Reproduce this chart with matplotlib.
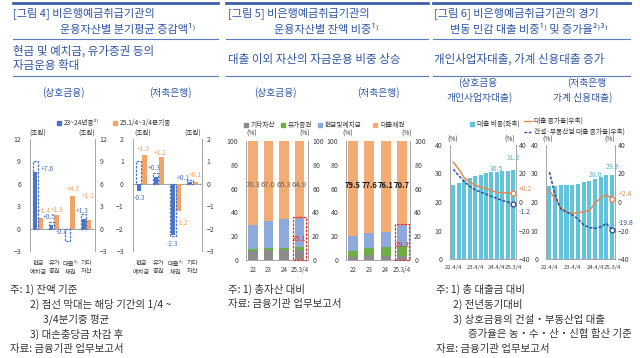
import numpy as np
import matplotlib.pyplot as plt
from matplotlib.patches import Rectangle
from matplotlib.lines import Line2D

plt.rcParams['font.family'] = ['Noto Sans CJK KR', 'DejaVu Sans']

W, H = 640, 358

# ---- 그림 4 : 운용자산별 분기평균 증감액 (조원)
assets4 = ['현금\n예치금', '유가\n증권', '대출³⁾\n채권', '기타\n자산']
coop_2324 = [7.6, 0.5, -0.1, 1.3]
coop_2324_q = [9.0, 0.9, -1.6, 2.0]     # 점선: 1/4~3/4분기중 평균
coop_25 = [1.4, 1.8, 4.3, 1.2]
sav_2324 = [-0.3, 0.3, -2.3, 0.1]
sav_2324_q = [1.0, 0.5, -2.35, 0.15]
sav_25 = [1.3, 1.2, -1.2, 0.1]

# ---- 그림 5 : 운용자산별 잔액 비중 (%)
years5 = ['22', '23', '24', '25.3/4']
coop_other = np.array([7.6, 8.5, 8.5, 8.5])
coop_sec = np.array([2.0, 1.9, 1.6, 2.2])
coop_cash = np.array([20.1, 22.6, 24.6, 24.4])
coop_loan = np.array([70.3, 67.0, 65.3, 64.9])
sav_other = np.array([2.8, 3.9, 3.4, 3.5])
sav_sec = np.array([4.5, 6.3, 7.3, 8.5])
sav_cash = np.array([13.2, 12.2, 13.2, 17.3])
sav_loan = np.array([79.5, 77.6, 76.1, 70.7])

# ---- 그림 6 : 경기변동 민감 대출 비중 및 증가율 (%)
quarters6 = ['22.4/4', '23.1/4', '23.2/4', '23.3/4', '23.4/4', '24.1/4',
             '24.2/4', '24.3/4', '24.4/4', '25.1/4', '25.2/4', '25.3/4']
coop_share = [26.0, 26.8, 27.6, 28.4, 29.0, 29.6, 30.1, 30.4, 30.5, 30.8, 31.0, 31.2]
coop_growth = [28.0, 23.0, 17.0, 14.0, 12.0, 10.5, 9.5, 8.0, 6.8, 6.5, 6.3, 6.2]
coop_cre_growth = [23.0, 18.5, 14.5, 11.0, 8.5, 7.0, 5.5, 4.0, 2.5, 1.0, 0.0, -1.2]
sav_share = [25.5, 25.5, 26.0, 26.1, 26.1, 26.4, 27.0, 27.5, 28.0, 28.8, 29.6, 29.3]
sav_growth = [8.0, 2.0, -4.0, -7.0, -8.0, -7.5, -7.0, -6.0, -1.0, 3.0, 5.0, 2.4]
sav_cre_growth = [21.0, 5.0, -5.0, -7.0, -9.0, -12.0, -16.0, -18.0, -18.5, -17.5, -15.0, -19.8]

TITLE = '#2f55a4'
RULE = '#5b7dc0'
TXT = '#333333'
AX = '#a6a6a6'
BLUE4, ORANGE4 = '#4a74c9', '#f2a465'
COLORS5 = ['#8c8c8c', '#6fae45', '#8eaadc', '#f3ad74']
CYAN6, ORANGE6, NAVY6 = '#62c4da', '#e08c55', '#2f4f9f'

fig = plt.figure(figsize=(6.4, 3.58), dpi=100)


def box(x0, y0, x1, y1):
    return fig.add_axes([x0 / W, 1 - y1 / H, (x1 - x0) / W, (y1 - y0) / H])


def ftext(x, y, s, size=7, color=TXT, ha='left', **kw):
    fig.text(x / W, 1 - y / H, s, fontsize=size, color=color, ha=ha, va='center', **kw)


def hrule(x0, x1, y, lw=0.8, color=RULE):
    fig.add_artist(Line2D([x0 / W, x1 / W], [1 - y / H, 1 - y / H], lw=lw, color=color))


def legend_sq(x, y, color, label, size=4.8):
    fig.add_artist(Rectangle(((x - 2.2) / W, 1 - (y + 2.2) / H), 4.4 / W, 4.4 / H,
                             color=color))
    ftext(x + 5, y, label, size=size)


def legend_line(x, y, color, label, ls='-', size=4.8):
    fig.add_artist(Line2D([x / W, (x + 8) / W], [1 - y / H, 1 - y / H], color=color,
                          lw=1.0, ls=ls))
    ftext(x + 10, y, label, size=size)


def y_axes(ax, ylim, ticks, lpad, rpad, rlim=None, rticks=None, bottom=True):
    ax.set_ylim(ylim)
    ax.set_yticks(ticks)
    ax.tick_params(axis='y', length=0, labelsize=5, pad=lpad, labelcolor='#404040')
    axr = ax.twinx()
    axr.set_ylim(rlim if rlim else ylim)
    axr.set_yticks(rticks if rticks else ticks)
    axr.tick_params(axis='y', length=0, labelsize=5, pad=rpad, labelcolor='#404040')
    for a in (ax, axr):
        for s in a.spines.values():
            s.set_color(AX)
            s.set_linewidth(0.7)
        a.spines['top'].set_visible(False)
        a.spines['bottom'].set_visible(bottom)
        a.set_facecolor('none')
    ax.spines['right'].set_visible(False)
    axr.spines['left'].set_visible(False)
    axr.spines['bottom'].set_visible(False)
    return axr


# ================= headers =================
for x0, x1 in [(13, 218), (226, 428), (433, 630)]:
    hrule(x0, x1, 2.5, lw=2.0, color='#3d5fa8')
    hrule(x0, x1, 39)
    hrule(x0, x1, 76)

ftext(13, 13, '[그림 4] 비은행예금취급기관의', size=8, color=TITLE)
ftext(60, 30, '운용자산별 분기평균 증감액¹⁾', size=8, color=TITLE)
ftext(13, 51, '현금 및 예치금, 유가증권 등의', size=8.3, color=TITLE)
ftext(13, 66, '자금운용 확대', size=8.3, color=TITLE)
ftext(63, 93, '(상호금융)', size=7, color=TITLE, ha='center')
ftext(170, 93, '(저축은행)', size=7, color=TITLE, ha='center')

ftext(228, 13, '[그림 5] 비은행예금취급기관의', size=8, color=TITLE)
ftext(274, 30, '운용자산별 잔액 비중¹⁾', size=8, color=TITLE)
ftext(228, 59, '대출 이외 자산의 자금운용 비중 상승', size=8.3, color=TITLE)
ftext(275, 93, '(상호금융)', size=7, color=TITLE, ha='center')
ftext(378, 93, '(저축은행)', size=7, color=TITLE, ha='center')

ftext(434, 13, '[그림 6] 비은행예금취급기관의 경기', size=8, color=TITLE)
ftext(450, 30, '변동 민감 대출 비중¹⁾ 및 증가율²⁾³⁾', size=8, color=TITLE)
ftext(434, 59, '개인사업자대출, 가계 신용대출 증가', size=8.3, color=TITLE)
ftext(478, 83, '(상호금융', size=7, color=TITLE, ha='center')
ftext(480, 98, '개인사업자대출)', size=7, color=TITLE, ha='center')
ftext(587, 83, '(저축은행', size=7, color=TITLE, ha='center')
ftext(583, 98, '가계 신용대출)', size=7, color=TITLE, ha='center')

# ================= 그림 4 =================
legend_sq(59, 123, BLUE4, '23~24년중²⁾')
legend_sq(115, 123, ORANGE4, '25.1/4~3/4분기중')

coop_blue_lab = [(0.57, 8.0), (0.72, 1.5), (1.44, -0.5), (2.78, 2.3)]
coop_orange_lab = [(0.37, 2.4), (1.19, 2.5), (2.19, 5.3), (3.12, 4.4)]
sav_blue_lab = [(-0.1, -0.63), (0.72, 0.7), (1.82, -2.7), (2.44, 0.27)]
sav_orange_lab = [(0.1, 1.55), (1.12, 1.37), (2.41, -1.75), (3.18, 0.4)]


def draw_fig4(ax, base, base_q, new, blue_lab, orange_lab):
    x = np.arange(len(assets4))
    w = 0.31
    ax.bar(x - 0.16, base, width=w * 0.8, color=BLUE4, zorder=3)
    ax.bar(x - 0.16, base_q, width=w, facecolor='none', edgecolor=BLUE4,
           linestyle=(0, (2, 1)), linewidth=0.9, zorder=4)
    ax.bar(x + 0.16, new, width=w, color=ORANGE4, zorder=3)
    ax.axhline(0, color=AX, lw=0.7, zorder=2)
    for (lx, ly), v in zip(blue_lab, base):
        ax.text(lx, ly, f'{v:+.1f}', color=BLUE4, fontsize=4.8, ha='center', va='center')
    for (lx, ly), v in zip(orange_lab, new):
        ax.text(lx, ly, f'{v:+.1f}', color=ORANGE4, fontsize=4.8, ha='center', va='center')
    ax.set_xlim(-0.5, 3.55)
    ax.set_xticks(x, assets4)
    ax.tick_params(axis='x', length=0, labelsize=4.5, pad=6, labelcolor='#404040')
    for t in ax.get_xticklabels():
        t.set_linespacing(1.0)


ax = box(30, 139, 95, 251)
y_axes(ax, (-3, 12), [-3, 0, 3, 6, 9, 12], 6.5, 3.5, bottom=False)
draw_fig4(ax, coop_2324, coop_2324_q, coop_25, coop_blue_lab, coop_orange_lab)
ftext(38, 133, '(조원)', size=4.8, ha='center')
ftext(87, 133, '(조원)', size=4.8, ha='center')

ax = box(133, 139, 202, 251)
y_axes(ax, (-3, 2), [-3, -2, -1, 0, 1, 2], 6.5, 3.5, bottom=False)
draw_fig4(ax, sav_2324, sav_2324_q, sav_25, sav_blue_lab, sav_orange_lab)
ftext(143, 133, '(조원)', size=4.8, ha='center')
ftext(193, 133, '(조원)', size=4.8, ha='center')

# ================= 그림 5 =================
legend_sq(246, 125, COLORS5[0], '기타자산')
legend_sq(283, 125, COLORS5[1], '유가증권')
legend_sq(320, 125, COLORS5[2], '현금및예치금')
legend_sq(375, 125, COLORS5[3], '대출채권')


def draw_fig5(ax, parts, loan, lab_color, weight, red_y, xlim):
    x = np.arange(len(years5))
    bottom = np.zeros(len(years5))
    for vals, c in zip(parts + [loan], COLORS5):
        ax.bar(x, vals, bottom=bottom, width=0.62, color=c, zorder=3)
        bottom = bottom + vals
    for xi, v in zip(x, loan):
        ax.text(xi, 63, f'{v:.1f}', color=lab_color, fontsize=5.5, ha='center',
                va='center', fontweight=weight, zorder=5)
    nonloan = 100 - loan[-1]
    ax.add_patch(Rectangle((x[-1] - 0.45, 0), 0.9, nonloan + 1, fill=False,
                           edgecolor='#ee2a24', ls=(0, (2, 1)), lw=0.9, zorder=6,
                           clip_on=False))
    ax.text(x[-1], red_y, f'{nonloan:.1f}', color='#ee2a24', fontsize=5.5,
            ha='center', va='center', zorder=6)
    ax.set_xlim(xlim)
    ax.set_xticks(x, years5)
    ax.tick_params(axis='x', length=0, labelsize=4.5, pad=4, labelcolor='#404040')


ax = box(246, 141, 308, 260)
y_axes(ax, (0, 100), range(0, 101, 20), 5.5, 3)
draw_fig5(ax, [coop_other, coop_sec, coop_cash], coop_loan, '#6d5c4c', 'normal', 18,
          (-0.45, 3.55))
ftext(252, 134, '(%)', size=4.8, ha='center')
ftext(305, 134, '(%)', size=4.8, ha='center')

ax = box(346, 141, 410, 260)
y_axes(ax, (0, 100), range(0, 101, 20), 5.5, 3)
draw_fig5(ax, [sav_other, sav_sec, sav_cash], sav_loan, '#1a1a1a', 'bold', 13,
          (-0.43, 3.5))
ftext(348, 134, '(%)', size=4.8, ha='center')
ftext(407, 134, '(%)', size=4.8, ha='center')

# ================= 그림 6 =================
legend_sq(472, 124, CYAN6, '대출 비중(좌축)')
legend_line(524, 121, ORANGE6, '대출 증가율(우축)')
legend_line(524, 132, NAVY6, '건설·부동산업 대출 증가율(우축)', ls=(0, (2, 1)))


def draw_fig6(ax, share, growth, cre, share_lab, end_off):
    x = np.arange(len(quarters6))
    axr = y_axes(ax, (0, 40), [0, 10, 20, 30, 40], 5.5, 2,
                 rlim=(-40, 40), rticks=[-40, -20, 0, 20, 40])
    ax.bar(x, share, width=0.72, color=CYAN6, zorder=2)
    for i, yy in share_lab:
        ax.text(x[i], yy, f'{share[i]:.1f}', color='#4db8d6', fontsize=5,
                ha='center', va='center')
    axr.plot(x, growth, color=ORANGE6, lw=1.1, zorder=4)
    axr.plot(x, cre, color=NAVY6, lw=1.1, ls=(0, (2, 1)), zorder=4)
    for series, c, off in zip([growth, cre], [ORANGE6, NAVY6], end_off):
        axr.plot(x[-1], series[-1], 'o', mfc='white', mec=c, ms=3.5, mew=1.0,
                 zorder=5, clip_on=False)
        axr.annotate(f'{series[-1]:+.1f}' if series[-1] > 0 else f'{series[-1]:.1f}',
                     (x[-1], series[-1]), xytext=off, textcoords='offset points',
                     color=c, fontsize=5, ha='left', va='center', annotation_clip=False)
    ax.set_xlim(-0.6, 11.5)
    ticks = [0, 4, 8, 11]
    ax.set_xticks(ticks, [quarters6[i] for i in ticks])
    ax.tick_params(axis='x', length=0, labelsize=4.3, pad=4, labelcolor='#404040')


ax = box(450, 145, 516, 259)
draw_fig6(ax, coop_share, coop_growth, coop_cre_growth, [(8, 31.6), (11, 35.3)],
          [(4, 3), (4, -6)])
ftext(453, 140, '(%)', size=4.8, ha='center')
ftext(510, 140, '(%)', size=4.8, ha='center')

ax = box(546, 145, 615, 259)
draw_fig6(ax, sav_share, sav_growth, sav_cre_growth, [(8, 29.6), (11, 32.3)],
          [(5, 3), (4, 5)])
ftext(548, 140, '(%)', size=4.8, ha='center')
ftext(610, 140, '(%)', size=4.8, ha='center')

# ================= notes =================
NS = 7.5
ftext(10, 289, '주: 1) 잔액 기준', size=NS)
ftext(30, 304, '2) 점선 막대는 해당 기간의 1/4 ~', size=NS)
ftext(43, 319, '3/4분기중 평균', size=NS)
ftext(30, 334, '3) 대손충당금 차감 후', size=NS)
ftext(10, 349, '자료: 금융기관 업무보고서', size=NS)

ftext(228, 289, '주: 1) 총자산 대비', size=NS)
ftext(228, 304, '자료: 금융기관 업무보고서', size=NS)

ftext(436, 289, '주: 1) 총 대출금 대비', size=NS)
ftext(453, 304, '2) 전년동기대비', size=NS)
ftext(453, 319, '3) 상호금융의 건설・부동산업 대출', size=NS)
ftext(468, 334, '증가율은 농・수・산・신협 합산 기준', size=NS)
ftext(436, 349, '자료: 금융기관 업무보고서', size=NS)

fig.savefig('out.png', dpi=100)
